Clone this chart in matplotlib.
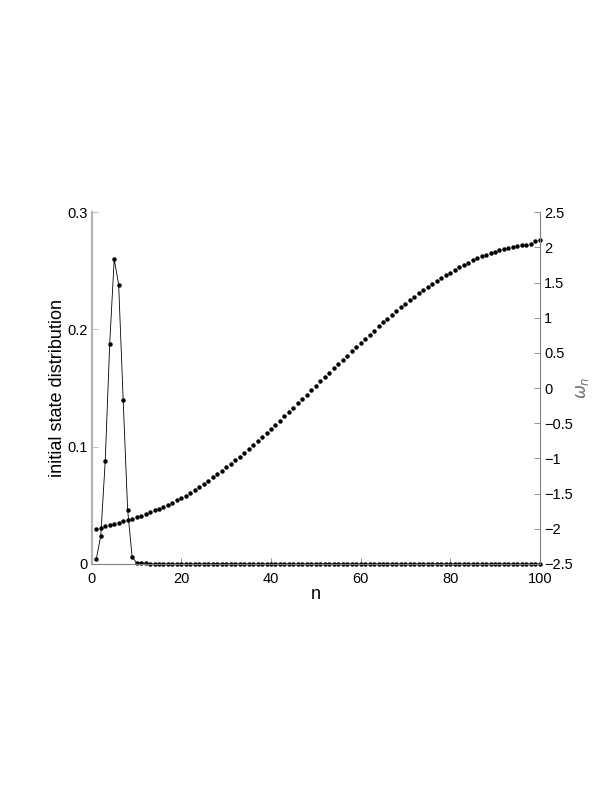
import matplotlib
matplotlib.use("Agg")
import matplotlib.pyplot as plt
from matplotlib.ticker import FuncFormatter

plt.rcParams['font.family'] = ['Liberation Sans', 'DejaVu Sans']

n = list(range(1, 101))

dist = [0.004, 0.024, 0.088, 0.188, 0.260, 0.238, 0.140, 0.046, 0.006, 0.001,
        0.001, 0.0005] + [0.0] * 88

omega = [-2.000, -1.984, -1.967, -1.950, -1.932, -1.914, -1.895, -1.875, -1.855, -1.834,
         -1.812, -1.789, -1.765, -1.740, -1.714, -1.687, -1.658, -1.628, -1.597, -1.564,
         -1.530, -1.490, -1.449, -1.406, -1.362, -1.317, -1.271, -1.224, -1.176, -1.127,
         -1.077, -1.026, -0.974, -0.921, -0.867, -0.812, -0.756, -0.699, -0.641, -0.582,
         -0.522, -0.462, -0.401, -0.340, -0.278, -0.216, -0.154, -0.092, -0.030, 0.032,
         0.094, 0.156, 0.218, 0.279, 0.340, 0.401, 0.462, 0.522, 0.582, 0.642,
         0.701, 0.760, 0.818, 0.876, 0.933, 0.989, 1.044, 1.097, 1.149, 1.200,
         1.250, 1.298, 1.345, 1.391, 1.436, 1.480, 1.522, 1.563, 1.603, 1.642,
         1.679, 1.715, 1.750, 1.784, 1.816, 1.845, 1.872, 1.897, 1.920, 1.941,
         1.960, 1.977, 1.992, 2.006, 2.018, 2.029, 2.039, 2.048, 2.090, 2.100]

xticks = [0, 20, 40, 60, 80, 100]
lticks = [0, 0.1, 0.2, 0.3]
rticks = [-2.5, -2, -1.5, -1, -0.5, 0, 0.5, 1, 1.5, 2, 2.5]

fig = plt.figure(figsize=(6.12, 7.92), dpi=100)
ax1 = fig.add_axes([0.150, 0.288, 0.732, 0.444])
ax2 = ax1.twinx()

ax1.plot(n, dist, color='black', lw=0.6, marker='o', ms=2.2, mfc='black', mec='black', clip_on=False)
ax2.plot(n, omega, ls='none', marker='o', ms=2.2, mfc='black', mec='black', clip_on=False)

ax1.set_xlim(0, 100)
ax1.set_ylim(0, 0.3)
ax2.set_ylim(-2.5, 2.5)
ax1.set_xticks(xticks)
ax1.set_yticks(lticks)
ax2.set_yticks(rticks)
fmt = FuncFormatter(lambda v, p: ('%g' % v).replace('-', '\u2212'))
ax1.yaxis.set_major_formatter(fmt)
ax2.yaxis.set_major_formatter(fmt)
ax1.xaxis.set_major_formatter(fmt)

for ax in (ax1, ax2):
    ax.spines['top'].set_visible(False)
    ax.tick_params(direction='in', length=4, width=0.6, color='#808080',
                   labelsize=10.5, labelcolor='black', pad=3)
    ax.patch.set_visible(False)

ax1.tick_params(axis='x', pad=6)
ax2.tick_params(axis='y', pad=3)
ax1.spines['left'].set_color('#b4b4b4')
ax1.spines['left'].set_linewidth(1.6)
ax1.spines['bottom'].set_color('#808080')
ax1.spines['right'].set_visible(False)
ax2.spines['left'].set_visible(False)
ax2.spines['bottom'].set_visible(False)
ax2.spines['right'].set_color('#808080')
ax2.spines['right'].set_linewidth(0.8)
ax1.tick_params(axis='y', color='#b4b4b4')

ax1.set_xlabel('n', fontsize=13, labelpad=0)
ax1.set_ylabel('initial state distribution', fontsize=13, labelpad=1)
ax2.set_ylabel(r'$\omega_n$', fontsize=12, color='#707070', labelpad=1)

fig.savefig('out.png', dpi=100)
